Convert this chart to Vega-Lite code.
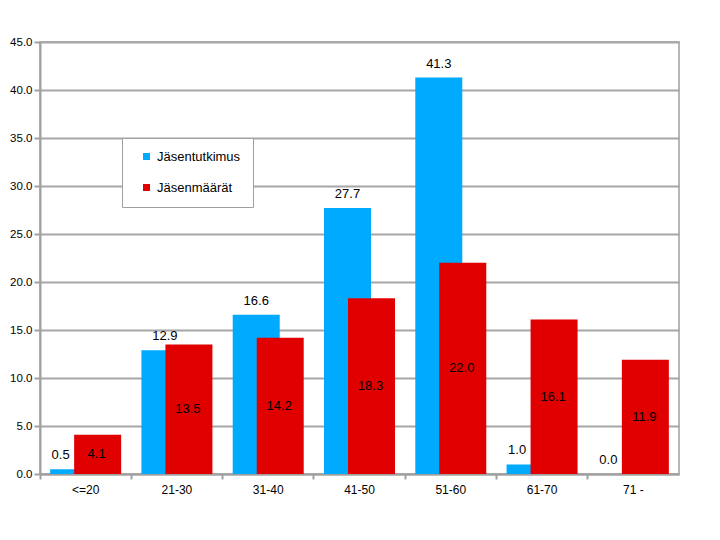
{
  "$schema": "https://vega.github.io/schema/vega-lite/v6.json",
  "width": 639,
  "height": 432,
  "autosize": {"type": "none"},
  "padding": {"left": 40, "top": 42, "right": 41, "bottom": 66},
  "background": "white",
  "config": {
    "font": "Liberation Sans",
    "view": {"stroke": "#a0a0a0", "strokeWidth": 1.5},
    "axis": {
      "labelFont": "Liberation Sans",
      "labelFontSize": 12,
      "labelColor": "#000000",
      "domainColor": "#a0a0a0",
      "domainWidth": 2,
      "tickColor": "#a0a0a0",
      "tickWidth": 2,
      "gridColor": "#a6a6a6",
      "gridWidth": 2,
      "title": null
    }
  },
  "data": {
    "values": [
      {"age": "<=20", "series": "Jäsentutkimus", "value": 0.5},
      {"age": "21-30", "series": "Jäsentutkimus", "value": 12.9},
      {"age": "31-40", "series": "Jäsentutkimus", "value": 16.6},
      {"age": "41-50", "series": "Jäsentutkimus", "value": 27.7},
      {"age": "51-60", "series": "Jäsentutkimus", "value": 41.3},
      {"age": "61-70", "series": "Jäsentutkimus", "value": 1.0},
      {"age": "71 -", "series": "Jäsentutkimus", "value": 0.0},
      {"age": "<=20", "series": "Jäsenmäärät", "value": 4.1},
      {"age": "21-30", "series": "Jäsenmäärät", "value": 13.5},
      {"age": "31-40", "series": "Jäsenmäärät", "value": 14.2},
      {"age": "41-50", "series": "Jäsenmäärät", "value": 18.3},
      {"age": "51-60", "series": "Jäsenmäärät", "value": 22.0},
      {"age": "61-70", "series": "Jäsenmäärät", "value": 16.1},
      {"age": "71 -", "series": "Jäsenmäärät", "value": 11.9}
    ]
  },
  "encoding": {
    "x": {
      "field": "age",
      "type": "nominal",
      "sort": null,
      "scale": {"paddingInner": 0, "paddingOuter": 0},
      "axis": {
        "labelAngle": 0,
        "bandPosition": 0,
        "tickSize": 5,
        "labelPadding": 5,
        "labelBound": false
      }
    }
  },
  "layer": [
    {
      "transform": [{"filter": "datum.series == 'Jäsentutkimus'"}],
      "mark": {"type": "bar", "width": 47, "xOffset": -12},
      "encoding": {
        "y": {
          "field": "value",
          "type": "quantitative",
          "scale": {"domain": [0, 45], "nice": false},
          "axis": {
            "values": [0, 5, 10, 15, 20, 25, 30, 35, 40, 45],
            "format": ".1f",
            "tickSize": 6,
            "labelPadding": 2,
            "labelFontSize": 11.5
          }
        },
        "color": {
          "field": "series",
          "type": "nominal",
          "scale": {
            "domain": ["Jäsentutkimus", "Jäsenmäärät"],
            "range": ["#00aaff", "#e00000"]
          },
          "legend": {
            "title": null,
            "orient": "none",
            "legendX": 82,
            "legendY": 96,
            "symbolType": "square",
            "symbolSize": 49,
            "symbolStrokeWidth": 0,
            "symbolOffset": 6,
            "labelOffset": 4,
            "labelFontSize": 13,
            "labelFont": "Liberation Sans",
            "labelColor": "#000000",
            "rowPadding": 17,
            "padding": 12,
            "strokeColor": "#a0a0a0",
            "fillColor": "#ffffff"
          }
        }
      }
    },
    {
      "transform": [{"filter": "datum.series == 'Jäsenmäärät'"}],
      "mark": {"type": "bar", "width": 47, "xOffset": 12},
      "encoding": {
        "y": {
          "field": "value",
          "type": "quantitative",
          "scale": {"domain": [0, 45], "nice": false},
          "axis": null
        },
        "color": {"field": "series", "type": "nominal"}
      }
    },
    {
      "transform": [{"filter": "datum.series == 'Jäsentutkimus' && datum.value >= 5"}],
      "mark": {
        "type": "text",
        "xOffset": -12,
        "dy": -7,
        "baseline": "bottom",
        "fontSize": 13,
        "color": "#000000"
      },
      "encoding": {
        "y": {
          "field": "value",
          "type": "quantitative",
          "scale": {"domain": [0, 45], "nice": false},
          "axis": null
        },
        "text": {"field": "value", "type": "quantitative", "format": ".1f"}
      }
    },
    {
      "transform": [{"filter": "datum.series == 'Jäsentutkimus' && datum.value < 5"}],
      "mark": {
        "type": "text",
        "xOffset": -25,
        "dy": -7,
        "baseline": "bottom",
        "fontSize": 13,
        "color": "#000000"
      },
      "encoding": {
        "y": {
          "field": "value",
          "type": "quantitative",
          "scale": {"domain": [0, 45], "nice": false},
          "axis": null
        },
        "text": {"field": "value", "type": "quantitative", "format": ".1f"}
      }
    },
    {
      "transform": [{"filter": "datum.series == 'Jäsenmäärät'"}],
      "mark": {
        "type": "text",
        "xOffset": 11,
        "baseline": "middle",
        "fontSize": 13,
        "color": "#000000"
      },
      "encoding": {
        "y": {
          "field": "value",
          "type": "quantitative",
          "scale": {"domain": [0, 90], "nice": false},
          "axis": null
        },
        "text": {"field": "value", "type": "quantitative", "format": ".1f"}
      }
    }
  ],
  "resolve": {"scale": {"y": "independent"}}
}
